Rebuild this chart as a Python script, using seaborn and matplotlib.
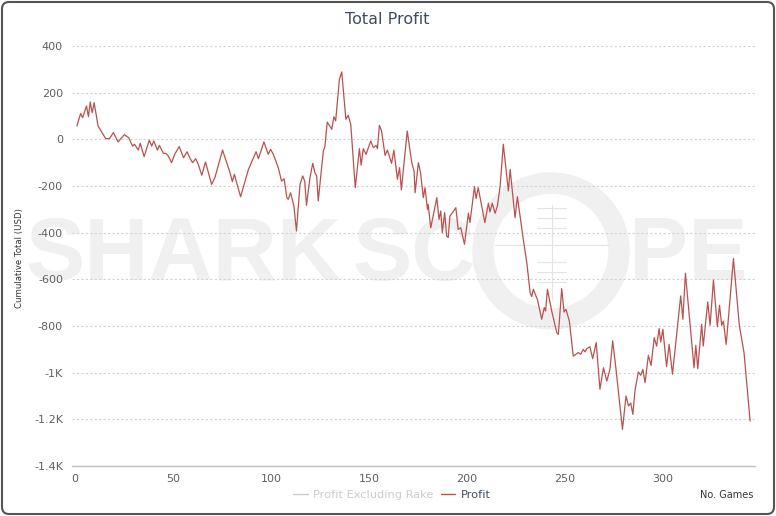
import numpy as np
import matplotlib.pyplot as plt
import pandas as pd
import seaborn as sb
from matplotlib.lines import Line2D
from matplotlib.patches import Annulus, FancyBboxPatch
from matplotlib.ticker import FuncFormatter

# cumulative profit (game number, USD)
games = [1.0, 2.9, 3.9, 5.9, 6.9, 7.8, 8.8, 9.8, 11.8, 13.7, 15.7, 17.6, 19.6, 22.0, 25.2, 27.4,
         29.4, 30.4, 32.3, 33.3, 35.3, 37.9, 39.2, 40.2, 42.1, 43.1, 45.1, 46.4, 47.6, 49.3, 50.9,
         53.2, 55.4, 57.2, 58.8, 60.0, 61.6, 62.9, 64.7, 66.6, 69.7, 71.4, 75.3, 79.1, 80.3, 81.3,
         84.5, 88.5, 92.4, 93.6, 96.4, 98.6, 99.8, 101.2, 103.7, 105.4, 106.7, 108.1, 108.8, 110.0,
         111.7, 113.0, 114.8, 116.2, 117.2, 118.1, 119.9, 121.3, 122.4, 123.3, 124.1, 126.7, 127.5,
         128.7, 131.0, 132.1, 133.0, 134.9, 136.1, 138.2, 139.4, 140.7, 143.0, 145.1, 146.0, 147.1,
         148.5, 150.9, 152.2, 153.6, 154.3, 155.3, 156.4, 158.2, 159.4, 161.5, 162.7, 164.5, 165.6,
         166.5, 169.5, 171.8, 173.0, 173.5, 175.2, 176.3, 177.7, 178.6, 179.8, 180.2, 181.5, 184.6,
         185.7, 186.6, 187.4, 188.6, 189.6, 190.4, 191.3, 194.3, 195.5, 196.8, 198.7, 200.7, 201.5,
         203.8, 204.6, 205.7, 209.1, 210.9, 211.7, 212.9, 214.3, 215.5, 216.9, 218.5, 221.1, 222.0,
         224.5, 225.7, 228.7, 230.5, 232.2, 233.0, 233.8, 235.9, 238.1, 239.4, 240.1, 241.0, 243.2,
         245.8, 246.6, 248.3, 249.5, 250.5, 252.2, 254.2, 255.6, 256.8, 258.0, 259.3, 260.2, 261.1,
         262.7, 264.1, 265.9, 267.8, 269.6, 271.3, 272.9, 274.3, 276.1, 279.3, 281.1, 282.4, 283.5,
         284.6, 285.7, 287.4, 288.6, 289.7, 290.8, 292.5, 293.9, 295.5, 296.7, 298.0, 298.8, 299.9,
         301.8, 303.1, 304.8, 306.6, 309.0, 310.1, 311.4, 315.8, 316.7, 317.7, 319.7, 320.5, 322.8,
         324.0, 325.7, 327.7, 328.8, 329.9, 330.8, 332.2, 335.9, 338.9, 341.3, 344.4]
profit = [57, 111, 93, 143, 97, 160, 114, 157, 57, 31, 3, 3, 29, -11, 20, 7,
          -29, -21, -46, -17, -74, -4, -29, -7, -46, -26, -60, -60, -71, -100, -64,
          -31, -79, -53, -83, -100, -83, -107, -154, -97, -193, -164, -46, -143, -181, -150,
          -246, -129, -53, -83, -11, -64, -43, -64, -121, -179, -169, -250, -257, -229,
          -286, -393, -193, -157, -179, -283, -164, -103, -143, -157, -264, -50, -31,
          74, 43, 97, 79, 257, 289, 86, 103, 64, -207, -40, -111, -40,
          -64, -7, -36, -26, -40, 60, 36, -69, -46, -103, -46, -171, -121,
          -217, 36, -100, -136, -229, -100, -143, -250, -207, -300, -279, -379, -250,
          -343, -307, -400, -314, -414, -421, -329, -293, -386, -379, -450, -317, -357,
          -203, -254, -207, -357, -274, -311, -274, -317, -286, -200, -21, -221, -129,
          -336, -246, -429, -529, -657, -674, -643, -686, -771, -721, -736, -643, -736,
          -829, -836, -640, -740, -729, -779, -929, -921, -914, -921, -900, -911, -897,
          -889, -940, -871, -1071, -979, -1036, -986, -864, -993, -1243, -1100, -1143, -1130,
          -1179, -1075, -997, -1011, -986, -1043, -926, -969, -850, -886, -811, -869, -814,
          -974, -879, -1007, -864, -671, -771, -574, -979, -883, -983, -793, -886, -697,
          -797, -603, -803, -711, -797, -779, -879, -511, -797, -914, -1207]

xTicks = [0, 50, 100, 150, 200, 250, 300]
yTicks = [400, 200, 0, -200, -400, -600, -800, -1000, -1200, -1400]
seriesNames = ['Profit Excluding Rake', 'Profit']

df = pd.DataFrame({'Games': games, 'Profit': profit})

sb.set_style('white')
plt.rcParams['font.family'] = ['DejaVu Sans']

fig = plt.figure(figsize=(7.76, 5.16), dpi=100)

# background layer in pixel units: frame + watermark
bg = fig.add_axes([0, 0, 1, 1], zorder=0)
bg.set_xlim(0, 776)
bg.set_ylim(516, 0)
bg.axis('off')
bg.add_patch(FancyBboxPatch((2, 2), 772, 512, boxstyle='round,pad=0,rounding_size=7',
                            fill=False, edgecolor='#555555', lw=1.5))
wm = '#f0f0f0'
for word, x0 in [('SHARK', 25), ('SC', 352), ('PE', 629)]:
    bg.text(x0, 280, word, fontsize=64, fontweight='bold', family='Liberation Sans',
            color=wm, ha='left', va='baseline')
bg.add_patch(Annulus((551, 251), 78, 20, color=wm))
bg.plot([552, 552], [205, 300], color='#e4e4e4', lw=0.8)
bg.plot([495, 609], [245, 245], color='#e4e4e4', lw=0.8)
for yy in [208, 218, 228, 262, 272, 282]:
    bg.plot([537, 566], [yy, yy], color='#e4e4e4', lw=0.8)

# main plot
ax = fig.add_axes([72 / 776, 50 / 516, 683 / 776, 420 / 516], zorder=1)
ax.set_facecolor('none')
sb.lineplot(data=df, x='Games', y='Profit', ax=ax, color='#b8524f', lw=0.9,
            estimator=None, sort=False)

ax.set_xlim(-1.5, 346.9)
ax.set_ylim(-1400, 400)
ax.set_xticks(xTicks)
ax.set_yticks(yTicks)

def kfmt(v, pos):
    if abs(v) >= 1000:
        return f'{v / 1000:g}K'
    return f'{v:g}'

ax.yaxis.set_major_formatter(FuncFormatter(kfmt))
ax.yaxis.grid(True, ls=(0, (2, 2)), color='#d2d2d2', lw=0.8)
ax.xaxis.grid(False)
for s in ['left', 'right', 'top']:
    ax.spines[s].set_visible(False)
ax.spines['bottom'].set_color('#c0c0c0')
ax.spines['bottom'].set_linewidth(1)
ax.tick_params(axis='x', length=4, width=1, color='#c0c0c0', labelsize=8,
               labelcolor='#606060', pad=1.5)
ax.tick_params(axis='y', length=0, labelsize=8, labelcolor='#606060', pad=6.5)
ax.set_xlabel('')
ax.set_ylabel('')

fig.text(0.4994, 1 - 19 / 516, 'Total Profit', fontsize=11.5, color='#3e4e5e',
         ha='center', va='center')
fig.text(20 / 776, 1 - 258 / 516, 'Cumulative Total (USD)', fontsize=6.2, color='#333333',
         rotation=90, ha='center', va='center')
fig.text(753 / 776, 1 - 495 / 516, 'No. Games', fontsize=7, color='#333333',
         ha='right', va='center')

handles = [Line2D([], [], color='#cccccc', lw=1), Line2D([], [], color='#b8524f', lw=1)]
leg = fig.legend(handles, seriesNames, loc='center', bbox_to_anchor=(392 / 776, 1 - 495 / 516),
                 ncol=2, frameon=False, fontsize=8.2, handlelength=1.3, handletextpad=0.5,
                 columnspacing=0.6)
leg.get_texts()[0].set_color('#cccccc')
leg.get_texts()[1].set_color('#3e4e5e')

plt.savefig('out.png', dpi=100)
